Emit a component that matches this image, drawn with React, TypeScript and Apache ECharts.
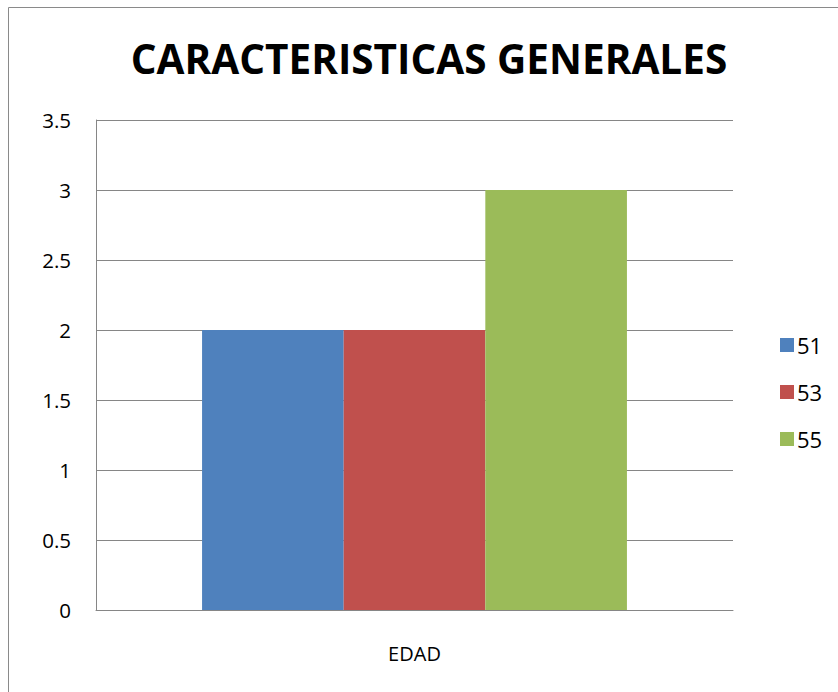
import React, { useEffect, useRef } from "react";
import * as echarts from "echarts";

const titleText = "CARACTERISTICAS GENERALES";
const categories = ["EDAD"];
const seriesNames = ["51", "53", "55"];
const seriesValues = [[2], [2], [3]];
const seriesColors = ["#4F81BD", "#C0504D", "#9BBB59"];

export default function App() {
  const ref = useRef<HTMLDivElement>(null);
  useEffect(() => {
    document.body.style.margin = "0";
    const chart = echarts.init(ref.current!, null, { renderer: "svg" });
    const font = "'Open Sans', 'Liberation Sans', sans-serif";
    chart.setOption({
      animation: false,
      backgroundColor: "#ffffff",
      title: {
        text: titleText,
        left: 424,
        top: 33,
        textAlign: "center",
        textStyle: { fontFamily: font, fontWeight: "bold", fontSize: 40.5, color: "#000" },
      },
      graphic: [
        {
          type: "rect",
          shape: { x: 8.5, y: 7.5, width: 900, height: 800 },
          style: { fill: "none", stroke: "#8a8a8a", lineWidth: 1 },
          silent: true,
        },
      ],
      legend: {
        orient: "vertical",
        left: 775,
        top: 329,
        itemWidth: 14,
        itemHeight: 14,
        itemGap: 25,
        icon: "rect",
        textStyle: { fontFamily: font, fontSize: 22, color: "#000", padding: [0, 0, 0, -2] },
        data: seriesNames,
      },
      grid: { left: 96, right: 105, top: 120, bottom: 82, containLabel: false },
      xAxis: {
        type: "category",
        data: categories,
        axisLine: { show: true, lineStyle: { color: "#868686", width: 1 } },
        axisTick: { show: false },
        axisLabel: { fontFamily: font, fontSize: 20, color: "#000", margin: 33 },
      },
      yAxis: {
        type: "value",
        min: 0,
        max: 3.5,
        interval: 0.5,
        axisLine: { show: true, lineStyle: { color: "#868686", width: 1 } },
        axisTick: { show: false },
        axisLabel: { fontFamily: font, fontSize: 20.5, color: "#000", margin: 25 },
        splitLine: { show: true, lineStyle: { color: "#868686", width: 1 } },
      },
      series: seriesNames.map((name, i) => ({
        name,
        type: "bar",
        data: seriesValues[i],
        itemStyle: { color: seriesColors[i] },
        barGap: "0%",
        barCategoryGap: "33.3%",
      })),
    });
    return () => chart.dispose();
  }, []);
  return <div ref={ref} style={{ width: 838, height: 692 }} />;
}
